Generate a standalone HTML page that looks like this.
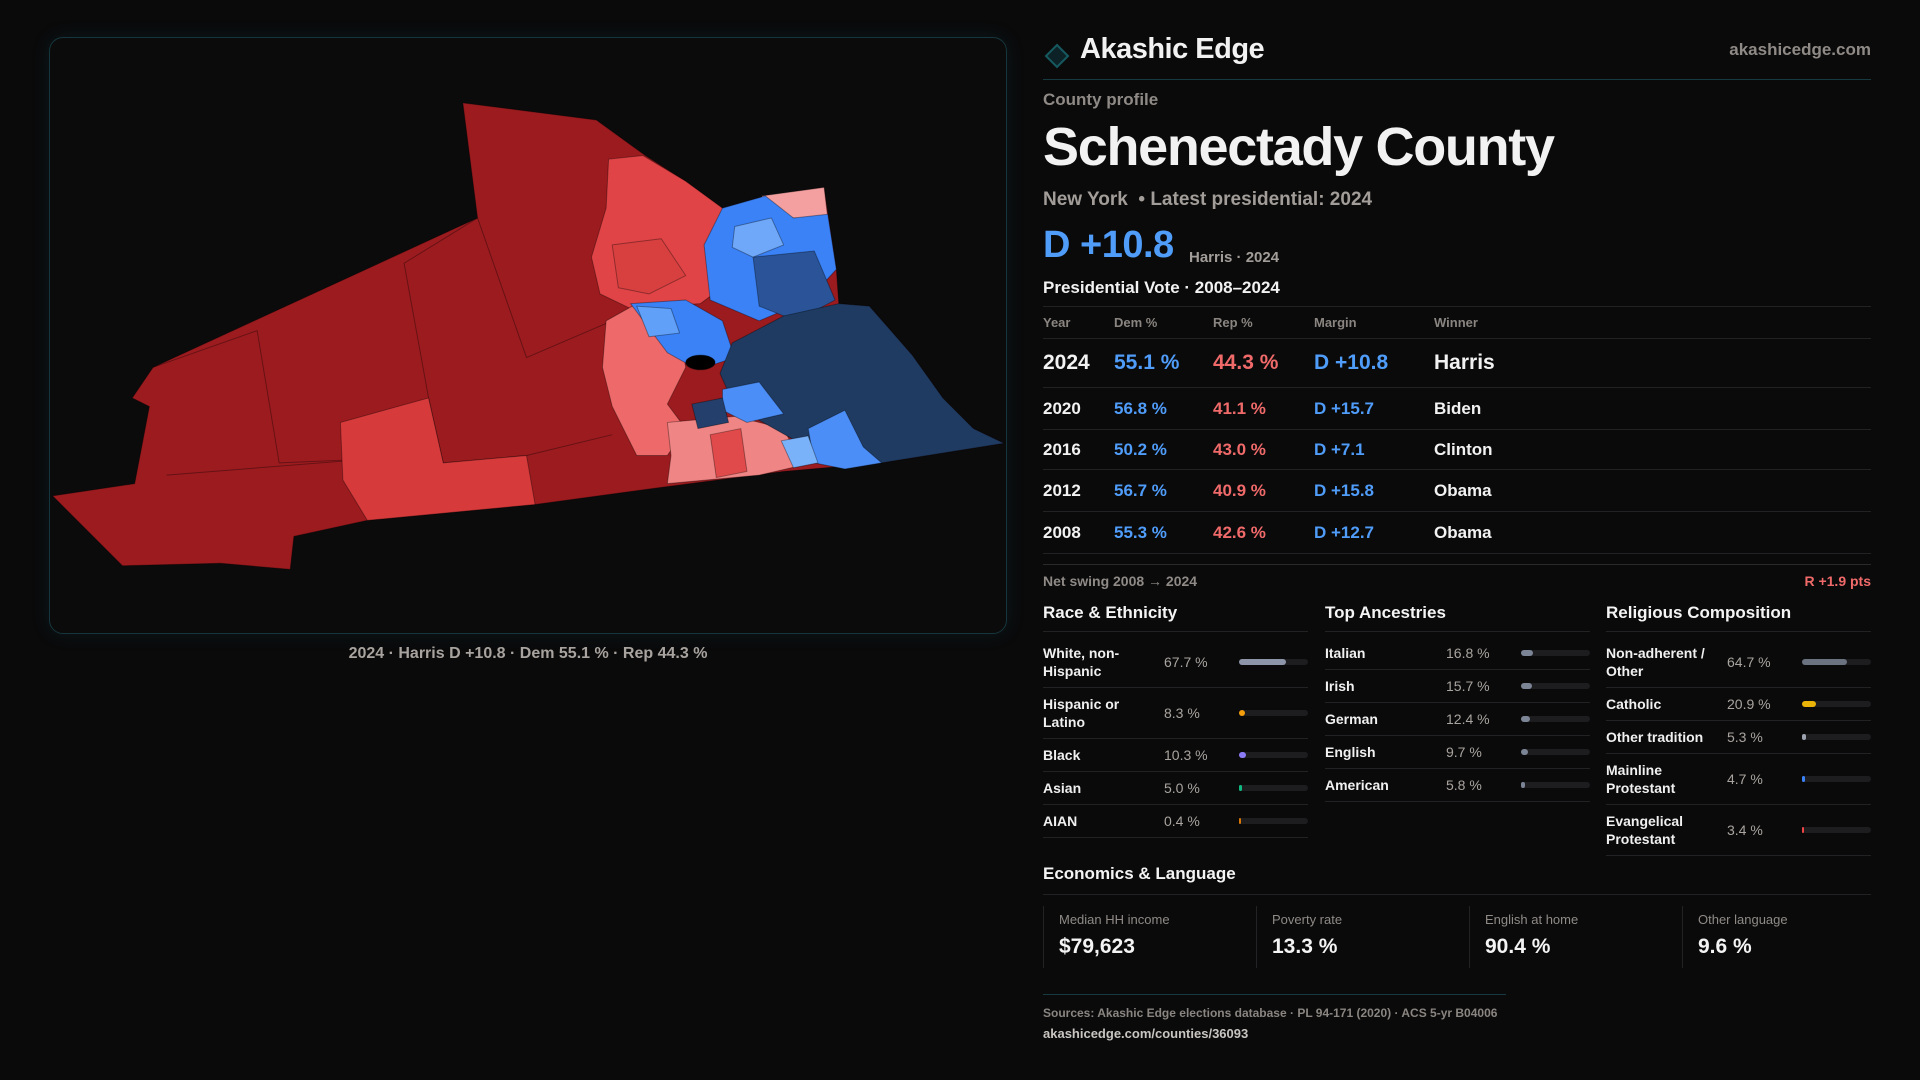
<!DOCTYPE html>
<html><head><meta charset="utf-8">
<style>
*{box-sizing:border-box;margin:0;padding:0}
body{width:1920px;height:1080px;background:#0a0a0b;font-family:"Liberation Sans",sans-serif;color:#f2f2f2;position:relative;overflow:hidden}
.abs{position:absolute}
.gray{color:#8f8a86}
.blue{color:#4f9cf9}
.red{color:#f06a6a}
#map-panel{left:49px;top:37px;width:958px;height:597px;border:1px solid #15363c;border-radius:14px;background:#0b0b0c;box-shadow:0 0 18px rgba(20,90,100,0.18)}
.row{display:flex;align-items:center;border-bottom:1px solid #222224}
.tcell{position:absolute}
.drow{display:flex;align-items:center;border-bottom:1px solid #222224;padding:7px 0;line-height:18px;font-size:14px;font-weight:bold;position:relative}
.dlab{white-space:pre-line;width:121px;color:#f0f0f0}
.dval{width:75px;color:#a9a49f;font-weight:normal;font-size:14px}
.track{width:69px;height:6px;border-radius:3px;background:#1d1d20;position:relative}
.fill{position:absolute;left:0;top:0;height:6px;border-radius:3px}
.sechead{font-size:17px;font-weight:bold;color:#f4f4f4}
.card{position:absolute;top:906px;height:62px;border-left:1px solid #232326;padding-left:15px}
.card .l{font-size:13px;color:#8f8a86;margin-top:6px}
.card .v{font-size:21px;font-weight:bold;color:#f4f4f4;margin-top:8px}
</style></head><body>

<div id="map-panel" class="abs"></div>
<svg class="abs" style="left:0;top:0" width="1920" height="1080" viewBox="0 0 1568 882">
 <g stroke="rgba(0,0,0,0.35)" stroke-width="0.8" stroke-linejoin="round">
  <polygon fill="#9c1b1f" points="378,84 487,98 527,127 560,148 590,170 625,160 673,153 683,220 685,248 710,250 745,290 770,325 795,350 820,362 720,378 640,385 540,398 437,412 300,425 240,438 237,465 180,460 100,462 43,405 110,395 122,332 108,325 125,300 390,178"/>
  <polyline fill="none" points="125,300 210,270 228,378 300,375" />
  <polyline fill="none" points="390,178 330,215 350,325 362,378" />
  <polyline fill="none" points="390,178 430,292 500,262" />
  <polyline fill="none" points="136,388 300,375 362,378 430,372 500,355" />
  <polygon fill="#d63a3b" points="278,345 350,325 362,378 430,372 437,412 300,425 280,392"/>
  <polygon fill="#e04446" points="497,130 525,127 560,148 590,170 596,230 572,248 515,252 490,240 483,210 495,170"/>
  <polygon fill="#d84040" points="500,200 540,195 560,225 530,240 505,235"/>
  <polygon fill="#ee6a6a" points="495,262 520,248 555,270 560,300 545,330 560,350 545,372 520,372 500,332 492,300"/>
  <polygon fill="#f08585" points="545,345 600,340 640,350 655,380 620,388 545,395 548,372"/>
  <polygon fill="#e04a4a" points="580,355 605,350 610,385 585,390"/>
  <polygon fill="#f4a0a0" points="622,160 673,153 676,178 648,178 630,172"/>
  <polygon fill="#3b82f6" points="590,170 625,160 648,178 676,175 683,220 660,245 620,262 580,245 575,200"/>
  <polygon fill="#6fa8f8" points="600,185 630,178 640,200 615,210 598,202"/>
  <polygon fill="#2a5497" points="615,210 665,205 682,245 650,262 620,250"/>
  <polygon fill="#3b82f6" points="515,248 560,245 590,262 600,292 570,302 545,288"/>
  <polygon fill="#60a0f8" points="520,250 548,252 555,272 530,275"/>
  <polygon fill="#1f3b62" points="598,280 640,258 685,248 710,250 745,290 770,325 795,350 820,362 720,378 690,372 650,360 600,332 588,305"/>
  <polygon fill="#4b8ef7" points="590,318 620,312 640,338 610,345 590,335"/>
  <polygon fill="#4b8ef7" points="660,350 690,335 705,365 720,378 690,383 665,378"/>
  <polygon fill="#7ab2fa" points="638,360 660,356 668,378 648,382"/>
  <polygon fill="#243f6b" points="565,330 590,325 595,345 570,350"/>
  <ellipse cx="572" cy="296" rx="12" ry="6" fill="#000"/>
 </g>
</svg>
<div class="abs gray" style="left:49px;width:958px;top:645px;text-align:center;font-size:16px;font-weight:bold;color:#a8a39e">2024 · Harris D +10.8 · Dem 55.1 % · Rep 44.3 %</div>

<!-- header -->
<svg class="abs" style="left:1044px;top:42px" width="26" height="28"><polygon points="13,3 24,14 13,25 2,14" fill="#0c2226" stroke="#16595f" stroke-width="2"/></svg>
<div class="abs" style="left:1080px;top:33px;font-size:29px;font-weight:bold;letter-spacing:-0.5px">Akashic Edge</div>
<div class="abs" style="right:49px;top:40px;font-size:17px;font-weight:bold;color:#8f8a86">akashicedge.com</div>
<div class="abs" style="left:1043px;top:79px;width:828px;height:1px;background:#173a40"></div>
<div class="abs gray" style="left:1043px;top:90px;font-size:17px;font-weight:bold">County profile</div>
<div class="abs" style="left:1043px;top:116px;font-size:54px;font-weight:bold;letter-spacing:-1.3px">Schenectady County</div>
<div class="abs" style="left:1043px;top:189px;font-size:19px;font-weight:bold;color:#a29d98">New York &nbsp;• Latest presidential: 2024</div>
<div class="abs blue" style="left:1043px;top:224px;font-size:38px;font-weight:bold;letter-spacing:-0.5px">D +10.8</div>
<div class="abs" style="left:1189px;top:249px;font-size:15px;font-weight:bold;color:#a29d98">Harris · 2024</div>
<div class="abs" style="left:1043px;top:278px;font-size:17px;font-weight:bold">Presidential Vote · 2008–2024</div>

<div id="vote-table" class="abs" style="left:1043px;top:306px;width:828px;border-top:1px solid #222224"></div>

<div class="abs" style="left:1043px;top:564px;width:828px;height:1px;background:#2a2a2c"></div>
<div class="abs gray" style="left:1043px;top:573px;font-size:14px;font-weight:bold">Net swing 2008 → 2024</div>
<div class="abs red" style="right:49px;top:573px;font-size:14px;font-weight:bold">R +1.9 pts</div>

<div id="sec-race" class="abs" style="left:1043px;top:603px;width:265px"></div>
<div id="sec-anc" class="abs" style="left:1325px;top:603px;width:265px"></div>
<div id="sec-rel" class="abs" style="left:1606px;top:603px;width:265px"></div>

<div class="abs sechead" style="left:1043px;top:864px">Economics &amp; Language</div>
<div class="abs" style="left:1043px;top:894px;width:828px;height:1px;background:#222224"></div>
<div class="card" style="left:1043px"><div class="l">Median HH income</div><div class="v">$79,623</div></div>
<div class="card" style="left:1256px"><div class="l">Poverty rate</div><div class="v">13.3 %</div></div>
<div class="card" style="left:1469px"><div class="l">English at home</div><div class="v">90.4 %</div></div>
<div class="card" style="left:1682px"><div class="l">Other language</div><div class="v">9.6 %</div></div>

<div class="abs" style="left:1043px;top:994px;width:463px;height:1px;background:#173a40"></div>
<div class="abs" style="left:1043px;top:1006px;font-size:12px;font-weight:bold;color:#8a8580">Sources: Akashic Edge elections database · PL 94-171 (2020) · ACS 5-yr B04006</div>
<div class="abs" style="left:1043px;top:1026px;font-size:13px;font-weight:bold;color:#c9c5c1">akashicedge.com/counties/36093</div>

<script>
const years=["2024","2020","2016","2012","2008"];
const demPct=[55.1,56.8,50.2,56.7,55.3];
const repPct=[44.3,41.1,43.0,40.9,42.6];
const margins=[10.8,15.7,7.1,15.8,12.7];
const winners=["Harris","Biden","Clinton","Obama","Obama"];
const raceLabels=["White, non-\nHispanic","Hispanic or\nLatino","Black","Asian","AIAN"];
const raceValues=[67.7,8.3,10.3,5.0,0.4];
const raceColors=["#8c96a8","#f59e0b","#8b7cf6","#10b981","#d97706"];
const ancLabels=["Italian","Irish","German","English","American"];
const ancValues=[16.8,15.7,12.4,9.7,5.8];
const relLabels=["Non-adherent /\nOther","Catholic","Other tradition","Mainline\nProtestant","Evangelical\nProtestant"];
const relValues=[64.7,20.9,5.3,4.7,3.4];
const relColors=["#6b7280","#eab308","#9ca3af","#3b82f6","#ef4444"];

const colX=[0,71,170,271,391];
const tbl=document.getElementById('vote-table');
function mkRow(h){const r=document.createElement('div');r.className='row';r.style.height=h+'px';r.style.position='relative';return r;}
function cell(r,x,txt,cls,size,name){const c=document.createElement('div');c.className='tcell '+(cls||'');c.style.left=x+'px';c.style.fontSize=size+'px';c.style.fontWeight='bold';c.textContent=txt;


r.appendChild(c);return c;}
const hdr=mkRow(32);


["Year","Dem %","Rep %","Margin","Winner"].forEach((t,i)=>{const c=cell(hdr,colX[i],t,'gray',13,'header-'+t.toLowerCase().replace(/[^a-z]/g,''));c.style.color='#8a8580';});
tbl.appendChild(hdr);
years.forEach((y,i)=>{
  const big=i===0;const r=mkRow(big?49:i===2?40:42);
  
  
  const s=big?21:17;
  const m=margins[i];
  cell(r,colX[0],y,'',s,'year-'+y);
  cell(r,colX[1],demPct[i].toFixed(1)+' %','blue',s,'dem-pct-'+y);
  cell(r,colX[2],repPct[i].toFixed(1)+' %','red',s,'rep-pct-'+y);
  cell(r,colX[3],(m>=0?'D +':'R +')+Math.abs(m).toFixed(1),m>=0?'blue':'red',s,'margin-'+y);
  cell(r,colX[4],winners[i],'',s,'winner-'+y);
  tbl.appendChild(r);
});

function section(id,title,labels,values,colors){
  const sec=document.getElementById(id);
  const h=document.createElement('div');h.className='sechead';h.textContent=title;h.style.height='29px';h.style.borderBottom='1px solid #222224';
  
  
  sec.appendChild(h);
  const list=document.createElement('div');list.style.marginTop='5px';sec.appendChild(list);
  labels.forEach((l,i)=>{
    const r=document.createElement('div');r.className='drow';
    
    
    const a=document.createElement('div');a.className='dlab';a.textContent=l;
    
    
    const v=document.createElement('div');v.className='dval';v.textContent=values[i].toFixed(1)+' %';
    
    
    const t=document.createElement('div');t.className='track';
    
    
    const f=document.createElement('div');f.className='fill';f.style.width=Math.max(2,values[i]/100*69)+'px';f.style.background=colors?colors[i]:'#7c8596';
    
    
    t.appendChild(f);r.appendChild(a);r.appendChild(v);r.appendChild(t);list.appendChild(r);
  });
}
section('sec-race','Race & Ethnicity',raceLabels,raceValues,raceColors);
section('sec-anc','Top Ancestries',ancLabels,ancValues,null);
section('sec-rel','Religious Composition',relLabels,relValues,relColors);
</script>
</body></html>
